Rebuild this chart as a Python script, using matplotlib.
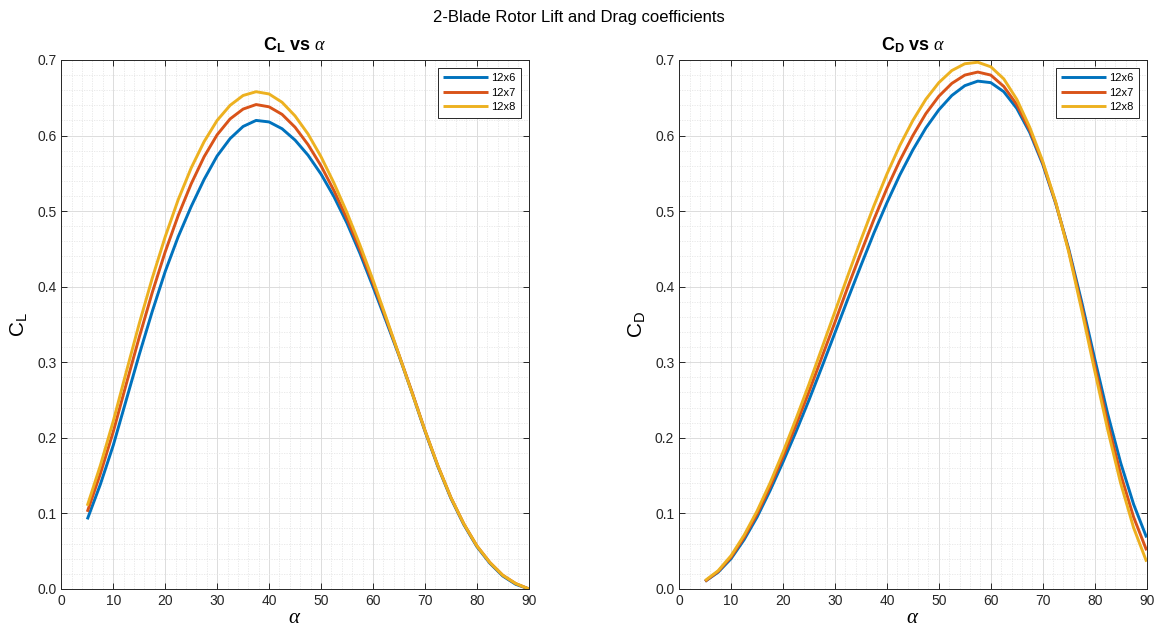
import numpy as np
import matplotlib.pyplot as plt
from matplotlib.ticker import MultipleLocator

plt.rcParams['font.family'] = ['Liberation Sans', 'DejaVu Sans']
plt.rcParams['mathtext.fontset'] = 'custom'
plt.rcParams['mathtext.rm'] = 'Liberation Sans'
plt.rcParams['mathtext.bf'] = 'Liberation Sans:bold'
plt.rcParams['mathtext.it'] = 'Liberation Serif:italic'

# angle of attack (deg), 5 to 90 in 2.5 deg steps
alpha = [5, 7.5, 10, 12.5, 15, 17.5, 20, 22.5, 25, 27.5, 30, 32.5, 35, 37.5,
         40, 42.5, 45, 47.5, 50, 52.5, 55, 57.5, 60, 62.5, 65, 67.5, 70, 72.5,
         75, 77.5, 80, 82.5, 85, 87.5, 90]

# lift coefficient per propeller
cl_12x6 = [0.092, 0.138, 0.190, 0.250, 0.310, 0.367, 0.420, 0.466, 0.506, 0.542, 0.573, 0.596,
           0.612, 0.620, 0.618, 0.609, 0.594, 0.574, 0.549, 0.519, 0.484, 0.444, 0.400, 0.355,
           0.309, 0.260, 0.209, 0.162, 0.120, 0.085, 0.056, 0.034, 0.017, 0.006, 0.000]
cl_12x7 = [0.102, 0.152, 0.208, 0.271, 0.333, 0.392, 0.446, 0.494, 0.536, 0.572, 0.601, 0.622,
           0.635, 0.641, 0.638, 0.628, 0.611, 0.588, 0.560, 0.527, 0.490, 0.449, 0.405, 0.358,
           0.310, 0.261, 0.210, 0.163, 0.121, 0.086, 0.057, 0.035, 0.018, 0.007, 0.000]
cl_12x8 = [0.110, 0.163, 0.222, 0.287, 0.351, 0.411, 0.466, 0.515, 0.557, 0.592, 0.620, 0.640,
           0.653, 0.658, 0.655, 0.644, 0.626, 0.602, 0.572, 0.537, 0.498, 0.455, 0.409, 0.360,
           0.310, 0.260, 0.210, 0.163, 0.121, 0.086, 0.057, 0.035, 0.018, 0.007, 0.000]

# drag coefficient per propeller
cd_12x6 = [0.010, 0.022, 0.040, 0.065, 0.095, 0.130, 0.168, 0.208, 0.250, 0.294, 0.339, 0.384,
           0.428, 0.471, 0.511, 0.548, 0.581, 0.610, 0.634, 0.653, 0.666, 0.672, 0.670, 0.658,
           0.636, 0.604, 0.562, 0.510, 0.450, 0.380, 0.305, 0.232, 0.167, 0.112, 0.068]
cd_12x7 = [0.010, 0.023, 0.042, 0.068, 0.099, 0.135, 0.175, 0.217, 0.261, 0.307, 0.353, 0.400,
           0.445, 0.489, 0.530, 0.567, 0.600, 0.629, 0.652, 0.669, 0.680, 0.684, 0.680, 0.665,
           0.641, 0.607, 0.564, 0.511, 0.448, 0.374, 0.296, 0.220, 0.152, 0.095, 0.051]
cd_12x8 = [0.011, 0.024, 0.044, 0.071, 0.103, 0.140, 0.181, 0.225, 0.271, 0.319, 0.367, 0.415,
           0.462, 0.507, 0.549, 0.587, 0.620, 0.648, 0.670, 0.686, 0.695, 0.697, 0.691, 0.675,
           0.648, 0.611, 0.566, 0.512, 0.446, 0.369, 0.289, 0.211, 0.140, 0.081, 0.036]

labels = ['12x6', '12x7', '12x8']
colors = ['#0072BD', '#D95319', '#EDB120']

fig = plt.figure(figsize=(11.57, 6.38), dpi=100)
fig.suptitle('2-Blade Rotor Lift and Drag coefficients', fontsize=12, y=0.985)

ax1 = fig.add_axes([0.053, 0.077, 0.404, 0.829])
ax2 = fig.add_axes([0.587, 0.077, 0.404, 0.829])

panels = [
    (ax1, [cl_12x6, cl_12x7, cl_12x8], r'C$_\mathbf{L}$ vs $\alpha$', r'C$_\mathrm{L}$'),
    (ax2, [cd_12x6, cd_12x7, cd_12x8], r'C$_\mathbf{D}$ vs $\alpha$', r'C$_\mathrm{D}$'),
]

for ax, series, title, ylabel in panels:
    for y, lab, c in zip(series, labels, colors):
        ax.plot(alpha, y, color=c, linewidth=2.1, label=lab,
                solid_joinstyle='round', solid_capstyle='butt')
    ax.set_xlim(0, 90)
    ax.set_ylim(0, 0.7)
    ax.xaxis.set_major_locator(MultipleLocator(10))
    ax.xaxis.set_minor_locator(MultipleLocator(2))
    ax.yaxis.set_major_locator(MultipleLocator(0.1))
    ax.yaxis.set_minor_locator(MultipleLocator(0.02))
    ax.grid(which='major', color='#dcdcdc', linewidth=0.7)
    ax.grid(which='minor', color='#e6e6e6', linewidth=0.6, linestyle=(0, (1.5, 1.5)))
    ax.set_axisbelow(True)
    ax.tick_params(which='major', direction='in', length=4, top=True, right=True,
                   labelsize=10, colors='#262626', width=0.7)
    ax.tick_params(which='minor', length=0)
    for s in ax.spines.values():
        s.set_color('#262626')
        s.set_linewidth(0.7)
    ax.set_title(title, fontsize=13, fontweight='bold', pad=7)
    ax.set_xlabel(r'$\alpha$', fontsize=15, labelpad=0)
    ax.set_ylabel(ylabel, fontsize=15, labelpad=6)
    leg = ax.legend(loc='upper right', fontsize=8, fancybox=False, framealpha=1,
                    edgecolor='#262626', handlelength=4.0, borderaxespad=0.7,
                    labelspacing=0.4, handletextpad=0.3, borderpad=0.5)
    leg.get_frame().set_linewidth(0.7)

fig.savefig('out.png', dpi=100)
